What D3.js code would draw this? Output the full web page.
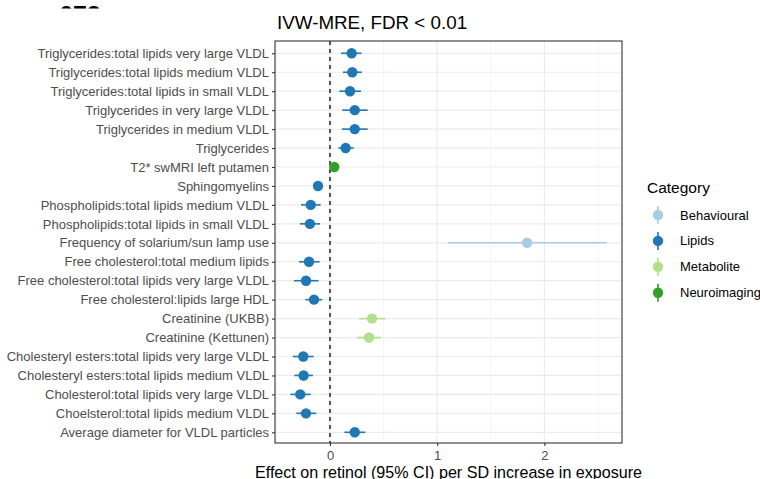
<!DOCTYPE html>
<html>
<head>
<meta charset="utf-8">
<script src="https://cdn.jsdelivr.net/npm/d3@7"></script>
<style>
  body { margin: 0; background: #fff; }
  svg { display: block; font-family: "Liberation Sans", Arial, Helvetica, sans-serif; }
</style>
</head>
<body>
<svg id="chart" width="760" height="479"></svg>
<script>
// rows from top to bottom
const exposures = [
  'Triglycerides:total lipids very large VLDL',
  'Triglycerides:total lipids medium VLDL',
  'Triglycerides:total lipids in small VLDL',
  'Triglycerides in very large VLDL',
  'Triglycerides in medium VLDL',
  'Triglycerides',
  'T2* swMRI left putamen',
  'Sphingomyelins',
  'Phospholipids:total lipids medium VLDL',
  'Phospholipids:total lipids in small VLDL',
  'Frequency of solarium/sun lamp use',
  'Free cholesterol:total medium lipids',
  'Free cholesterol:total lipids very large VLDL',
  'Free cholesterol:lipids large HDL',
  'Creatinine (UKBB)',
  'Creatinine (Kettunen)',
  'Cholesteryl esters:total lipids very large VLDL',
  'Cholesteryl esters:total lipids medium VLDL',
  'Cholesterol:total lipids very large VLDL',
  'Choelsterol:total lipids medium VLDL',
  'Average diameter for VLDL particles'
];
const category = [
  'Lipids', 'Lipids', 'Lipids', 'Lipids', 'Lipids', 'Lipids',
  'Neuroimaging', 'Lipids', 'Lipids', 'Lipids', 'Behavioural',
  'Lipids', 'Lipids', 'Lipids', 'Metabolite', 'Metabolite',
  'Lipids', 'Lipids', 'Lipids', 'Lipids', 'Lipids'
];
const estimate = [0.202, 0.208, 0.187, 0.231, 0.231, 0.146, 0.040, -0.112, -0.180, -0.187, 1.838,
  -0.196, -0.224, -0.149, 0.392, 0.364, -0.249, -0.246, -0.277, -0.224, 0.231];
const lower = [0.103, 0.121, 0.087, 0.115, 0.112, 0.078, 0.012, -0.140, -0.270, -0.280, 1.098,
  -0.289, -0.336, -0.230, 0.271, 0.252, -0.345, -0.333, -0.370, -0.314, 0.134];
const upper = [0.295, 0.297, 0.289, 0.352, 0.352, 0.221, 0.068, -0.084, -0.087, -0.093, 2.581,
  -0.096, -0.106, -0.072, 0.516, 0.476, -0.152, -0.159, -0.180, -0.128, 0.330];
const categories = ['Behavioural', 'Lipids', 'Metabolite', 'Neuroimaging'];
const palette = ['#A6CEE3', '#1F78B4', '#B2DF8A', '#33A02C'];
const xTicks = [0, 1, 2];
const xMinor = [-0.5, 0.5, 1.5, 2.5];

const rows = exposures.map((name, i) => ({
  name, cat: category[i], est: estimate[i], lo: lower[i], hi: upper[i]
}));

const svg = d3.select('#chart');
const margin = { top: 41, right: 138, bottom: 36, left: 275 };
const width = 760 - margin.left - margin.right;
const height = 479 - margin.top - margin.bottom;

const x = d3.scaleLinear().domain([-0.513, 2.724]).range([0, width]);
const y = d3.scalePoint().domain(exposures).range([12.3, height - 10.7]);
const color = d3.scaleOrdinal().domain(categories).range(palette);

// cut-off panel tag peeking in at the top
svg.append('clipPath').attr('id', 'tagclip')
  .append('rect').attr('x', 0).attr('y', 0).attr('width', 200).attr('height', 8.5);
svg.append('text')
  .attr('clip-path', 'url(#tagclip)')
  .attr('x', 59).attr('y', 24)
  .style('font-size', '25px').style('font-weight', 'bold').attr('fill', '#000')
  .text('672');

const g = svg.append('g').attr('transform', `translate(${margin.left},${margin.top})`);

// grid
g.selectAll('.minor').data(xMinor.filter(d => x(d) > 0 && x(d) < width)).join('line')
  .attr('x1', d => x(d)).attr('x2', d => x(d)).attr('y1', 0).attr('y2', height)
  .attr('stroke', '#f2f2f2').attr('stroke-width', 0.8);
g.selectAll('.major').data(xTicks).join('line')
  .attr('x1', d => x(d)).attr('x2', d => x(d)).attr('y1', 0).attr('y2', height)
  .attr('stroke', '#ebebeb').attr('stroke-width', 1.2);
g.selectAll('.hgrid').data(exposures).join('line')
  .attr('x1', 0).attr('x2', width).attr('y1', d => y(d)).attr('y2', d => y(d))
  .attr('stroke', '#ebebeb').attr('stroke-width', 1.2);

// zero line
g.append('line')
  .attr('x1', x(0)).attr('x2', x(0)).attr('y1', 0).attr('y2', height)
  .attr('stroke', '#000').attr('stroke-width', 1.3).attr('stroke-dasharray', '4,4');

// point ranges
const pr = g.selectAll('.pr').data(rows).join('g');
pr.append('line')
  .attr('x1', d => x(d.lo)).attr('x2', d => x(d.hi))
  .attr('y1', d => y(d.name)).attr('y2', d => y(d.name))
  .attr('stroke', d => color(d.cat)).attr('stroke-width', 1.6);
pr.append('circle')
  .attr('cx', d => x(d.est)).attr('cy', d => y(d.name)).attr('r', 5.2)
  .attr('fill', d => color(d.cat));

// border
g.append('rect').attr('width', width).attr('height', height)
  .attr('fill', 'none').attr('stroke', '#333').attr('stroke-width', 1.1);

// axes
const xAxis = g.append('g').attr('transform', `translate(0,${height})`)
  .call(d3.axisBottom(x).tickValues(xTicks).tickSize(3).tickPadding(3).tickFormat(d3.format('d')));
const yAxis = g.append('g')
  .call(d3.axisLeft(y).tickSize(3).tickPadding(3));
[xAxis, yAxis].forEach(a => {
  a.select('.domain').remove();
  a.selectAll('.tick line').attr('stroke', '#333').attr('stroke-width', 1.1);
  a.selectAll('.tick text').attr('fill', '#4d4d4d').style('font-size', '13px')
    .style('font-family', '"Liberation Sans", Arial, sans-serif');
});
xAxis.selectAll('.tick text').attr('dy', '0.85em');

// title and axis title
svg.append('text').attr('x', margin.left + 2).attr('y', 29)
  .style('font-size', '18.8px').attr('fill', '#000')
  .text('IVW-MRE, FDR < 0.01');
svg.append('text').attr('x', margin.left + width / 2).attr('y', 478)
  .attr('text-anchor', 'middle').style('font-size', '16.1px').attr('fill', '#000')
  .text('Effect on retinol (95% CI) per SD increase in exposure');

// legend
const leg = svg.append('g').attr('transform', 'translate(647,0)');
leg.append('text').attr('x', 0).attr('y', 193)
  .style('font-size', '15.5px').attr('fill', '#000').text('Category');
const items = leg.selectAll('.item').data(categories).join('g')
  .attr('transform', (d, i) => `translate(11,${215 + i * 25.9})`);
items.append('line').attr('x1', 0).attr('x2', 0).attr('y1', -9).attr('y2', 9)
  .attr('stroke', d => color(d)).attr('stroke-width', 1.6);
items.append('circle').attr('r', 5.2).attr('fill', d => color(d));
items.append('text').attr('x', 22).attr('dy', '0.35em')
  .style('font-size', '13px').attr('fill', '#000').text(d => d);
</script>
</body>
</html>
